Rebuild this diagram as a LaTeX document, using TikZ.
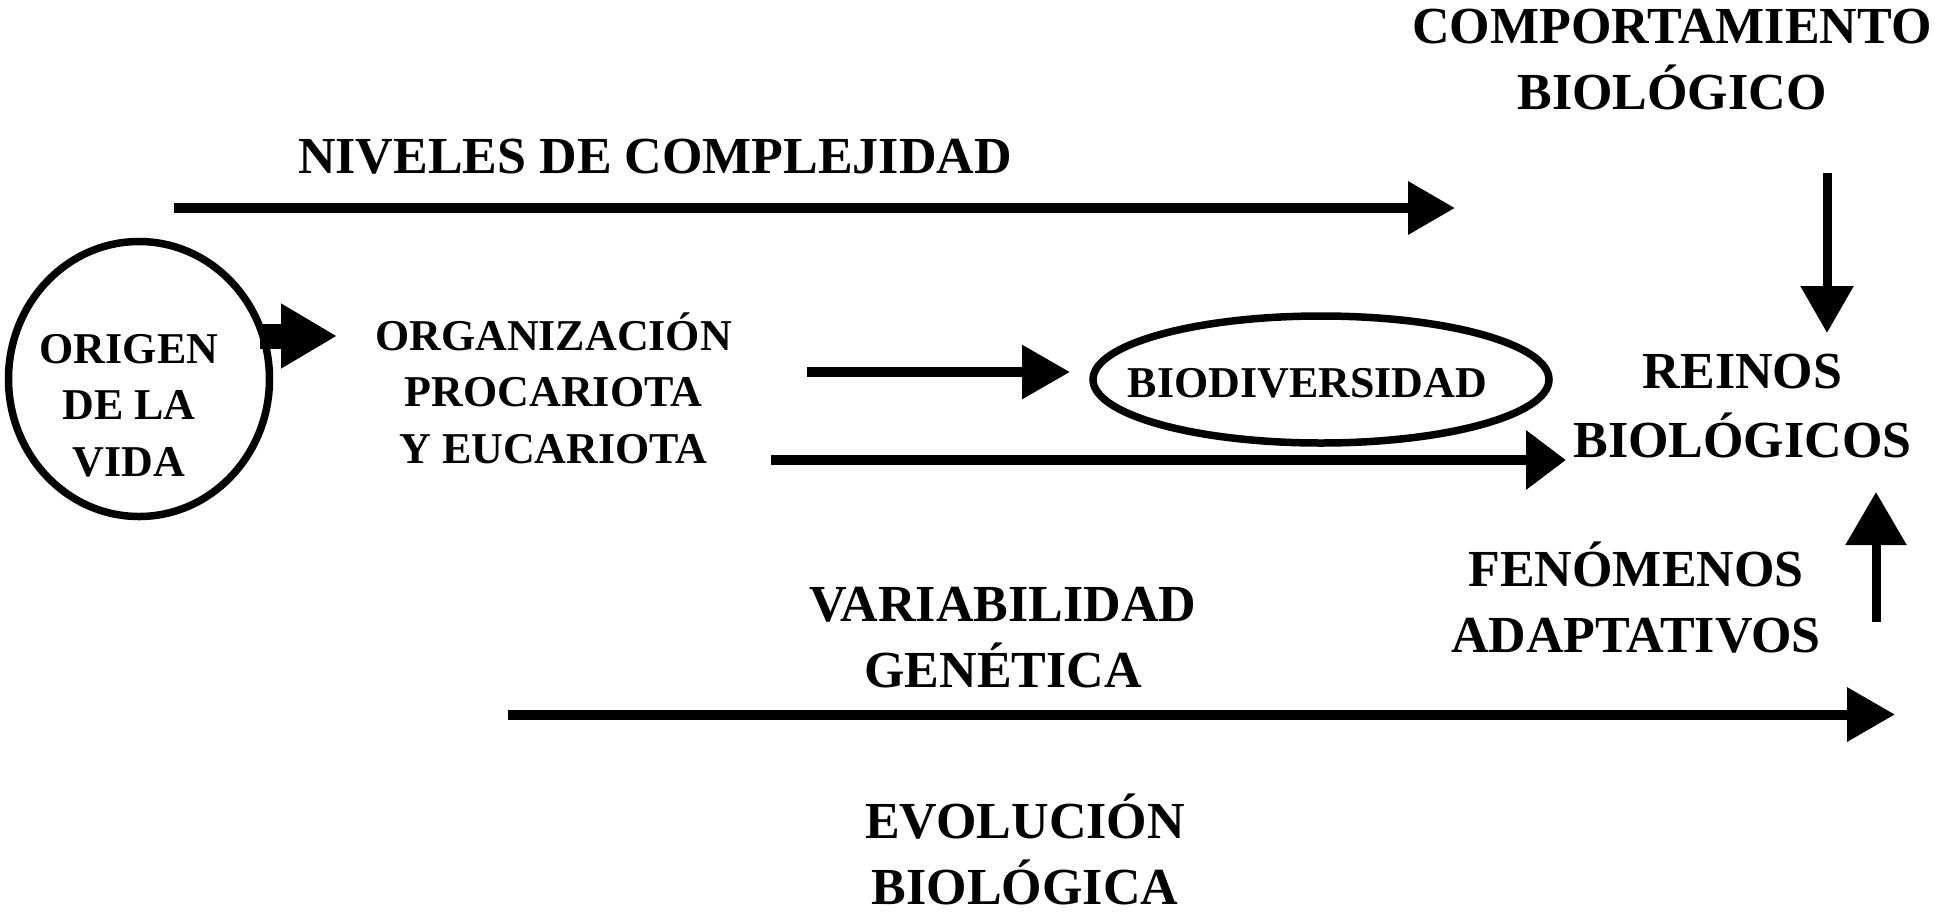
\documentclass[tikz,border=0pt]{standalone}
\usepackage{fontspec}
\setmainfont{Liberation Serif}
\usetikzlibrary{arrows.meta,shapes.geometric}
\begin{document}
\begin{tikzpicture}[x=0.5pt,y=-0.5pt,
  big/.style={font=\fontsize{26pt}{33pt}\selectfont\bfseries, align=center, inner sep=0pt, anchor=base},
  small/.style={font=\fontsize{22pt}{28.25pt}\selectfont\bfseries, align=center, inner sep=0pt, anchor=base},
  conn/.style={line width=5pt, -{Triangle[length=23.5pt,width=25.5pt]}},
  ring/.style={draw, ellipse, line width=3.75pt, inner sep=0pt}]
\fill[white] (0,0) rectangle (1937,911);
\useasboundingbox (0,0) rectangle (1937,911);
% nodes (anchor = baseline of the last line)
\node[ring, minimum width=130.5pt, minimum height=137.5pt] (origen) at (139,379) {};
\node[small] (origentxt) at (129,476) {ORIGEN\\DE LA\\VIDA};
\node[ring, minimum width=228pt, minimum height=63.5pt] (biodiv) at (1321,379.5) {};
\node[small] (biodivtxt) at (1307.5,397) {BIODIVERSIDAD};
\node[small] (org) at (553.5,463) {ORGANIZACIÓN\\PROCARIOTA\\Y EUCARIOTA};
\node[big] (comp) at (1672,109) {COMPORTAMIENTO\\BIOLÓGICO};
\node[big] (niv) at (655,173) {NIVELES DE COMPLEJIDAD};
\node[big, font=\fontsize{26pt}{34.5pt}\selectfont\bfseries] (reinos) at (1742.5,457) {REINOS\\BIOLÓGICOS};
\node[big] (fen) at (1636,652) {FENÓMENOS\\ADAPTATIVOS};
\node[big] (var) at (1003,687.5) {VARIABILIDAD\\GENÉTICA};
\node[big] (evo) at (1025,904) {EVOLUCIÓN\\BIOLÓGICA};
% connector end points
\coordinate (a1s) at (174,208);   \coordinate (a1e) at (1455,208);
\coordinate (blks) at (260,336);  \coordinate (blke) at (337,336);
\coordinate (a2s) at (807,372);   \coordinate (a2e) at (1070,372);
\coordinate (a3s) at (771,460);   \coordinate (a3e) at (1566,460);
\coordinate (dns) at (1827,173);  \coordinate (dne) at (1827,333);
\coordinate (ups) at (1876,622);  \coordinate (upe) at (1876,492);
\coordinate (a4s) at (508,714.5); \coordinate (a4e) at (1895,714.5);
% connectors
\draw[conn] (a1s) -- (a1e);
\draw[line width=12.5pt, -{Triangle[length=28pt,width=30.5pt]}] (blks) -- (blke);
\draw[conn, line width=4.75pt, -{Triangle[length=24pt,width=26pt]}] (a2s) -- (a2e);
\draw[conn, -{Triangle[length=20pt,width=28.5pt]}] (a3s) -- (a3e);
\draw[conn, line width=4.5pt] (dns) -- (dne);
\draw[conn, line width=4.5pt, -{Triangle[length=26.5pt,width=29.5pt]}] (ups) -- (upe);
\draw[conn, -{Triangle[length=24pt,width=26pt]}] (a4s) -- (a4e);
\end{tikzpicture}
\end{document}
